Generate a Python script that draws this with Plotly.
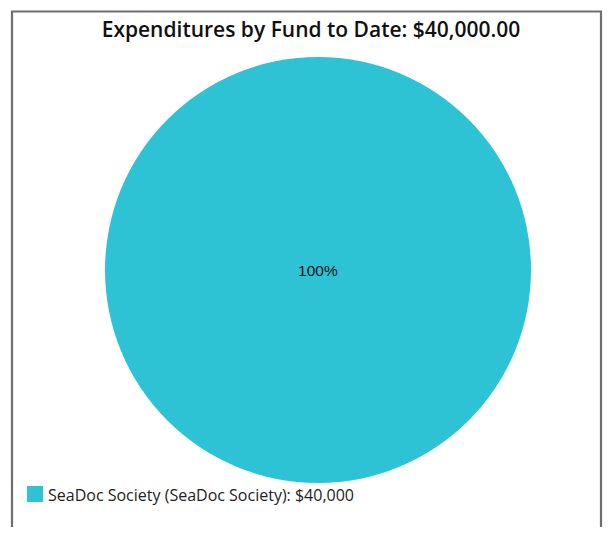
import plotly.graph_objects as go

funds = ["SeaDoc Society (SeaDoc Society)"]
amounts = [40000]
colors = ["#2DC3D5"]
total = sum(amounts)

labels = [f"{f}: ${a:,.0f}" for f, a in zip(funds, amounts)]

# page body has an 8px margin; work in figure pixel coords
OFF = 8
W, H = 611 - OFF, 535 - 2 * OFF
cx, cy, r = 318 - OFF, 270 - OFF, 213


def px(x):
    return x / W


def py(y):
    return 1 - y / H


fig = go.Figure(go.Pie(
    labels=labels,
    values=amounts,
    marker=dict(colors=colors, line=dict(width=0)),
    textinfo="percent",
    texttemplate="%{percent:.0%}",
    textposition="inside",
    insidetextfont=dict(family="Liberation Sans, Arial", size=15.5, color="#111111"),
    sort=False,
    hoverinfo="label+percent",
    showlegend=False,
    domain=dict(x=[px(cx - r), px(cx + r)],
                y=[py(cy + r), py(cy - r)]),
))

shapes = [dict(type="rect", xref="paper", yref="paper",
               x0=px(12 - OFF), x1=px(601 - OFF), y0=-0.05, y1=py(11.5 - OFF),
               line=dict(color="#6E6E6E", width=2.2), fillcolor="rgba(0,0,0,0)",
               layer="below")]
annotations = []
for i, (lab, col) in enumerate(zip(labels, colors)):
    yc = 494 - OFF + i * 22
    shapes.append(dict(type="rect", xref="paper", yref="paper",
                       x0=px(27 - OFF), x1=px(43 - OFF), y0=py(yc + 8), y1=py(yc - 8),
                       line=dict(width=0), fillcolor=col))
    annotations.append(dict(text=lab, xref="paper", yref="paper",
                            x=px(46 - OFF), y=py(yc + 1), xanchor="left", yanchor="middle",
                            showarrow=False,
                            font=dict(family="Open Sans", size=16, color="#222222")))

fig.update_layout(
    width=W, height=H,
    margin=dict(l=0, r=0, t=0, b=0),
    paper_bgcolor="white",
    title=dict(text=f"Expenditures by Fund to Date: ${total:,.2f}",
               x=px(311 - OFF), xanchor="center", y=py(30 - OFF), yanchor="middle",
               font=dict(family="Open Sans", size=21, color="#111111", weight=600)),
    shapes=shapes,
    annotations=annotations,
)

fig.write_html("out.html")
